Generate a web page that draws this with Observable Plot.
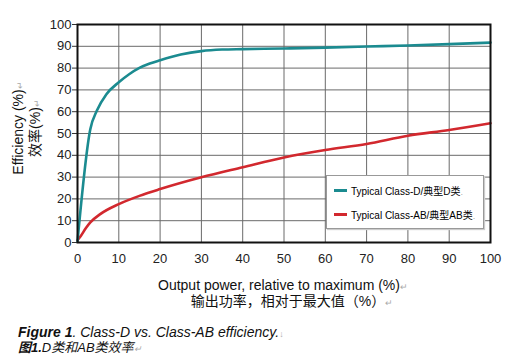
<!DOCTYPE html>
<html><head><meta charset="utf-8">
<script src="https://cdn.jsdelivr.net/npm/d3@7"></script>
<script src="https://cdn.jsdelivr.net/npm/@observablehq/plot@0.6"></script>
<style>
body{margin:0;background:#fff;font-family:"Liberation Sans",Arial,"Noto Sans CJK SC",sans-serif;}
#wrap{position:relative;width:508px;height:362px;overflow:hidden;}
.ab{position:absolute;white-space:nowrap;color:#111;}
.pm{color:#aaa;font-size:9px;}
.cjk{font-family:"Liberation Sans","Noto Sans CJK SC",sans-serif;}
#legend{position:absolute;left:326px;top:175px;width:156px;height:52px;background:#fff;border:1px solid #999;box-shadow:1px 1px 1px #ccc;font-size:10px;}
#legend .it{position:absolute;left:7px;display:flex;align-items:center;}
#legend .sw{width:13px;height:3px;margin-right:4px;}
</style></head>
<body><div id="wrap"></div>
<script>
const classDPower = [0, 3.1, 4.7, 7, 10, 12.5, 15, 17.5, 20, 25, 30, 35, 40, 50, 60, 70, 80, 90, 100];
const classDEff   = [0.5, 52, 60.5, 68, 73.5, 77.2, 80.1, 82.1, 83.6, 86.2, 87.8, 88.5, 88.7, 89.0, 89.4, 89.9, 90.4, 91.0, 91.7];
const classABPower = [0, 0.8, 2, 3.1, 5.5, 10, 15, 20, 30, 40, 50, 60, 70, 80, 90, 100];
const classABEff   = [1, 3, 6.5, 9.2, 13, 17.6, 21.4, 24.5, 29.9, 34.5, 39, 42.4, 45.2, 49, 51.6, 54.7];
const xTicks = [0,10,20,30,40,50,60,70,80,90,100];
const yTicks = [0,10,20,30,40,50,60,70,80,90,100];
const seriesNames = ["Typical Class-D/典型D类", "Typical Class-AB/典型AB类"];
const seriesColors = ["#1b8b90", "#d2282e"];

const dData = classDPower.map((x,i)=>({x, y:classDEff[i]}));
const abData = classABPower.map((x,i)=>({x, y:classABEff[i]}));

const chart = Plot.plot({
  width: 508, height: 270,
  marginLeft: 77, marginRight: 18, marginTop: 24, marginBottom: 28,
  style: {fontFamily: '"Liberation Sans", Arial, sans-serif', fontSize: "13px", color: "#222", background: "#fff"},
  x: {domain: [0,100]},
  y: {domain: [0,100]},
  marks: [
    Plot.gridX(xTicks, {stroke: "#6a6a6a", strokeOpacity: 1, strokeWidth: 1}),
    Plot.gridY(yTicks, {stroke: "#6a6a6a", strokeOpacity: 1, strokeWidth: 1}),
    Plot.axisX(xTicks, {tickSize: 0, tickPadding: 11, label: null, fontSize: 13}),
    Plot.axisY(yTicks, {tickSize: 5, tickPadding: 1, label: null, fontSize: 13, stroke: "#333"}),
    Plot.line(abData, {x:"x", y:"y", stroke: seriesColors[1], strokeWidth: 2.6, curve: "monotone-x"}),
    Plot.line(dData, {x:"x", y:"y", stroke: seriesColors[0], strokeWidth: 2.6, curve: "monotone-x"}),
    Plot.frame({stroke: "#111", strokeWidth: 2})
  ]
});
const wrap = document.getElementById("wrap");
chart.style.position = "absolute"; chart.style.left = "0"; chart.style.top = "0";
wrap.appendChild(chart);

function add(html, css, cls){
  const d = document.createElement("div");
  d.className = "ab " + (cls||"");
  d.innerHTML = html;
  Object.assign(d.style, css);
  wrap.appendChild(d);
  return d;
}
// y axis title (rotated)
add('Efficiency (%)<span class="pm">&#8629;</span>', {left:"18px", top:"128px", fontSize:"14px", transform:"translate(-50%,-50%) rotate(-90deg)"});
add('效率(%)<span class="pm">&#8629;</span>', {left:"34px", top:"128px", fontSize:"14px", transform:"translate(-50%,-50%) rotate(-90deg)"}, "cjk");
// x axis title
add('Output power, relative to maximum (%)<span class="pm">&#8629;</span>', {left:"283px", top:"285px", fontSize:"14px", transform:"translate(-50%,-50%)"});
add('输出功率，相对于最大值（%）<span class="pm">&#8629;</span>', {left:"292px", top:"300px", fontSize:"14px", transform:"translate(-50%,-50%)"}, "cjk");
// caption
add('<b>Figure 1</b>. Class-D vs. Class-AB efficiency.<span class="pm">&#8595;</span>', {left:"18px", top:"332px", fontSize:"14px", fontStyle:"italic", transform:"translateY(-50%)"});
add('<b>图1.</b>D类和AB类效率<span class="pm">&#8629;</span>', {left:"18px", top:"346px", fontSize:"13px", fontStyle:"italic", transform:"translateY(-50%)"}, "cjk");
// legend
const lg = document.createElement("div"); lg.id = "legend"; wrap.appendChild(lg);
seriesNames.forEach((n,i)=>{
  const it = document.createElement("div"); it.className = "it";
  it.style.top = (i===0? 7 : 31) + "px";
  it.innerHTML = `<div class="sw" style="background:${seriesColors[i]}"></div><span class="cjk">${n}<span class="pm">.</span></span>`;
  lg.appendChild(it);
});
</script></body></html>
